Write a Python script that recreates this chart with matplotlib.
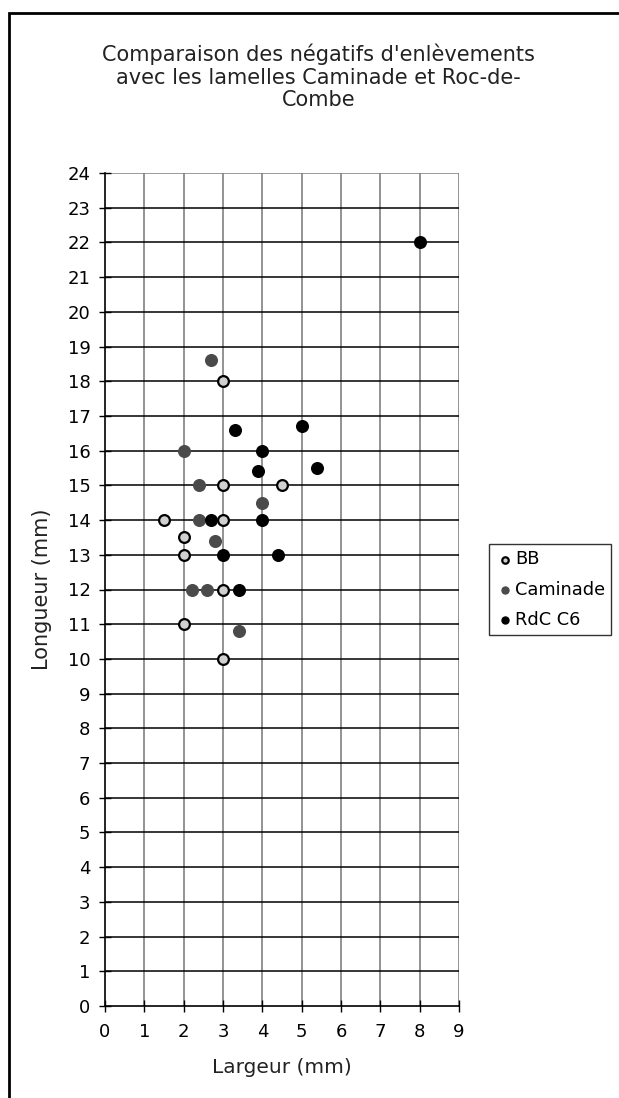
import matplotlib.pyplot as plt
from matplotlib.patches import Rectangle

# data (largeur, longueur in mm)
bb_x = [1.5, 2, 2, 2, 3, 3, 3, 3, 3, 4.5]
bb_y = [14, 13.5, 13, 11, 18, 15, 14, 12, 10, 15]

cam_x = [2.7, 2, 2.4, 2.4, 2.8, 4, 2.2, 2.6, 3.4]
cam_y = [18.6, 16, 15, 14, 13.4, 14.5, 12, 12, 10.8]

rdc_x = [8, 3.3, 5, 4, 3.9, 5.4, 2.7, 4, 3, 4.4, 3.4]
rdc_y = [22, 16.6, 16.7, 16, 15.4, 15.5, 14, 14, 13, 13, 12]

x_ticks = list(range(0, 10))
y_ticks = list(range(0, 25))

plt.rcParams['font.family'] = ['DejaVu Sans']

fig = plt.figure(figsize=(6.19, 10.98), dpi=100)
ax = fig.add_axes([105 / 619, 1 - 1006 / 1098, 354 / 619, 833 / 1098])

# outer chart frame (cut by the image border on the right and bottom)
fig.patches.append(Rectangle((9 / 619, -0.2), 1.2, 1.2 - 13 / 1098,
                             transform=fig.transFigure, fill=False,
                             edgecolor='black', linewidth=2))

ax.scatter(bb_x, bb_y, s=60, facecolor='#d0d0d0', edgecolor='black',
           linewidth=1.6, zorder=3, label='BB')
ax.scatter(cam_x, cam_y, s=70, color='#4a4a4a', zorder=3, label='Caminade')
ax.scatter(rdc_x, rdc_y, s=70, color='black', zorder=3, label='RdC C6')

ax.set_xlim(0, 9)
ax.set_ylim(0, 24)
ax.set_xticks(x_ticks)
ax.set_yticks(y_ticks)
ax.tick_params(direction='inout', length=9, width=1, labelsize=13,
               colors='black', pad=6)
ax.tick_params(axis='x', pad=8)
for x in x_ticks[1:]:
    ax.axvline(x, color='#808080', linewidth=1.2, zorder=1)
for y in y_ticks[1:]:
    ax.axhline(y, color='black' if y < 24 else '#808080', linewidth=1.1, zorder=1)
for side in ['top', 'right']:
    ax.spines[side].set_visible(False)
for side in ['left', 'bottom']:
    ax.spines[side].set_linewidth(1.2)

ax.set_xlabel('Largeur (mm)', fontsize=14.5, labelpad=12, color='#222222')
ax.set_ylabel('Longueur (mm)', fontsize=15, labelpad=11, color='#222222')

fig.text(0.515, 1 - 77 / 1098, "Comparaison des négatifs d'enlèvements\n"
         "avec les lamelles Caminade et Roc-de-\nCombe",
         ha='center', va='center', fontsize=15, linespacing=1.15,
         color='#222222')

leg = fig.legend(loc='upper left', bbox_to_anchor=(489 / 619, 1 - 544 / 1098),
                 frameon=True, fancybox=False, fontsize=12.8, handletextpad=0.0,
                 markerscale=0.6, borderpad=0.35, labelspacing=0.7,
                 handlelength=1.1, borderaxespad=0)
leg.get_frame().set_edgecolor('black')
leg.get_frame().set_linewidth(1)

fig.savefig('out.png', dpi=100)
